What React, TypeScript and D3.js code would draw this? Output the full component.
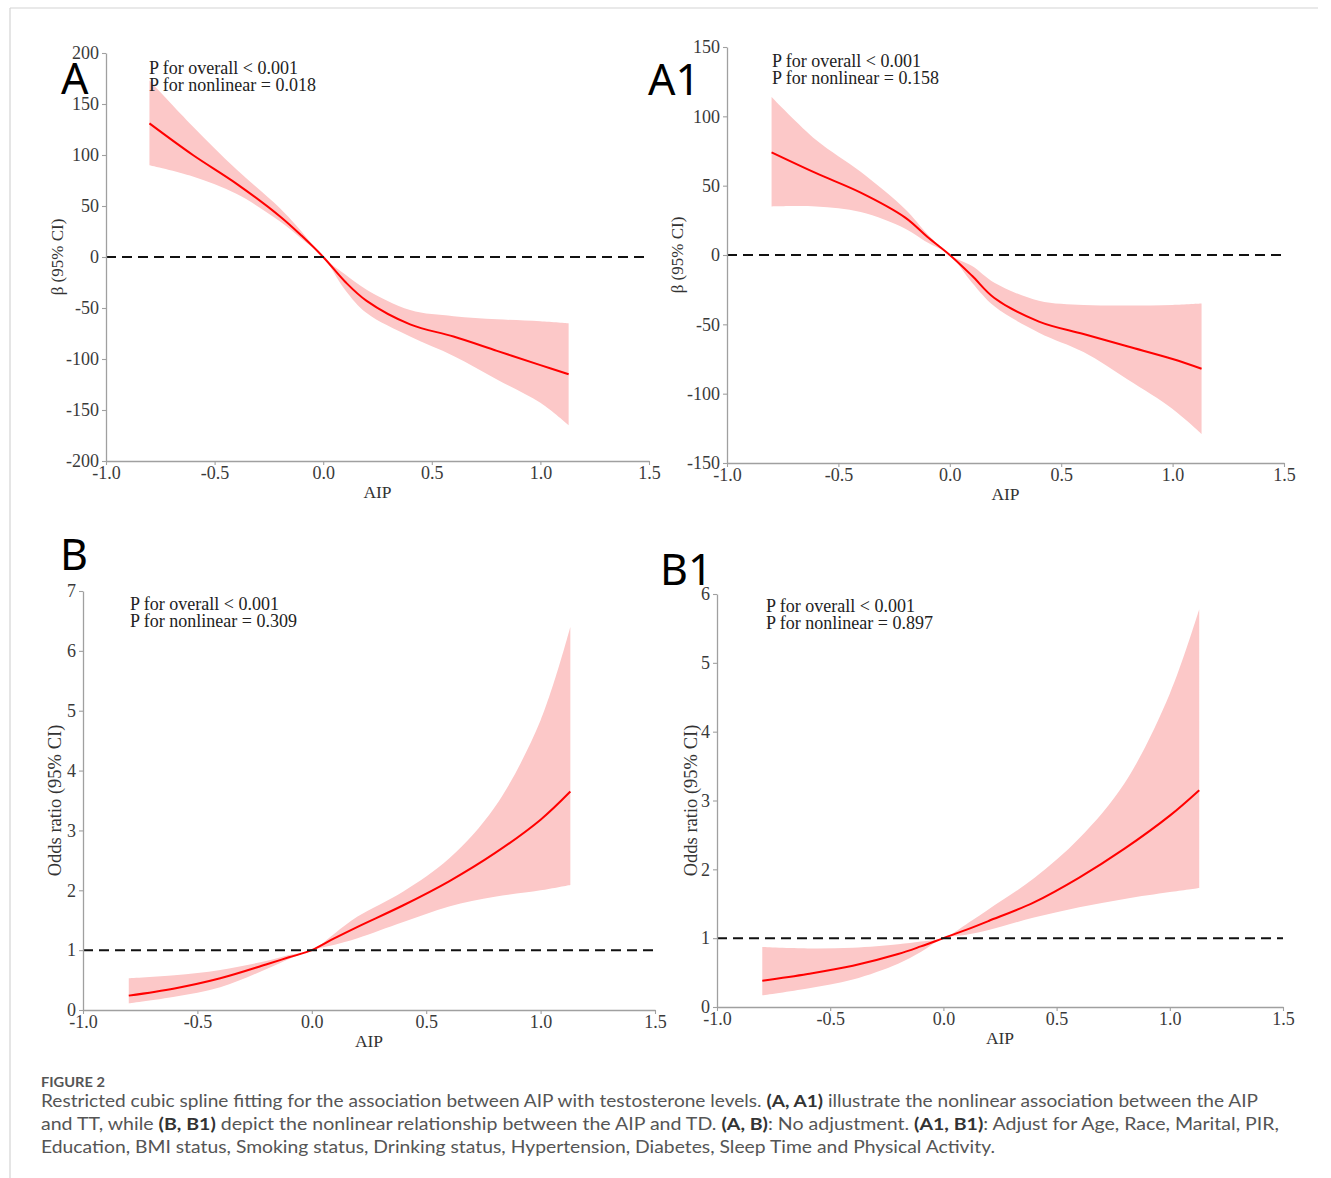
import React, { useEffect, useRef } from 'react';
import * as d3 from 'd3';

const aip = [-0.8, -0.6, -0.4, -0.2, -0.1, 0, 0.1, 0.2, 0.4, 0.6, 0.8, 1.0, 1.13];

// A: TT, no adjustment (beta)
const fitA = [131, 100, 72, 40, 21, 0, -24, -43, -66, -78, -92, -106, -115];
const hiA = [173, 128, 86, 48, 25, 0, -17, -32, -52, -58, -61, -63, -65];
const loA = [90, 79, 62, 35, 18, 0, -32, -55, -78, -97, -120, -143, -165];

// A1: TT, adjusted (beta)
const fitA1 = [74, 59, 45, 27, 13, 0, -15, -31, -48, -57, -66, -75, -82];
const hiA1 = [114, 83, 60, 33, 15, 0, -8, -20, -33, -36, -36.5, -36, -35];
const loA1 = [35, 35, 31, 19, 9, 0, -20, -37, -56, -70, -90, -111, -129];

// B: TD, no adjustment (odds ratio)
const fitB = [0.24, 0.36, 0.53, 0.76, 0.88, 1.0, 1.2, 1.39, 1.75, 2.15, 2.62, 3.18, 3.65];
const hiB = [0.53, 0.58, 0.67, 0.82, 0.92, 1.0, 1.28, 1.56, 1.98, 2.53, 3.39, 4.84, 6.4];
const loB = [0.11, 0.22, 0.38, 0.68, 0.85, 1.0, 1.09, 1.2, 1.47, 1.73, 1.89, 2.0, 2.09];

// B1: TD, adjusted (odds ratio)
const fitB1 = [0.38, 0.48, 0.6, 0.77, 0.88, 1.0, 1.12, 1.25, 1.52, 1.88, 2.3, 2.78, 3.15];
const hiB1 = [0.87, 0.85, 0.86, 0.91, 0.95, 1.0, 1.2, 1.42, 1.87, 2.45, 3.25, 4.55, 5.78];
const loB1 = [0.17, 0.27, 0.4, 0.63, 0.8, 1.0, 1.05, 1.12, 1.3, 1.45, 1.57, 1.67, 1.73];

const xTicks = [-1, -0.5, 0, 0.5, 1, 1.5];
const yTicksA = [-200, -150, -100, -50, 0, 50, 100, 150, 200];
const yTicksA1 = [-150, -100, -50, 0, 50, 100, 150];
const yTicksB = [0, 1, 2, 3, 4, 5, 6, 7];
const yTicksB1 = [0, 1, 2, 3, 4, 5, 6];

const serif = '"Liberation Serif", "Times New Roman", serif';
const sans = '"Noto Sans", "DejaVu Sans", sans-serif';
const capFont = 'Lato, "Noto Sans", sans-serif';

type PanelProps = {
  letter: string;
  letterX: number;
  letterY: number;
  fit: number[];
  hi: number[];
  lo: number[];
  xPx: [number, number];
  yPx: [number, number];
  yDomain: [number, number];
  yTicks: number[];
  refValue: number;
  yLabel: string;
  yLabelX: number;
  yLabelSize: number;
  pLines: string[];
  pX: number;
  pY: number;
};

const Panel = (p: PanelProps) => {
  const xAxisRef = useRef<SVGGElement>(null);
  const yAxisRef = useRef<SVGGElement>(null);

  const x = d3.scaleLinear().domain([-1, 1.5]).range(p.xPx);
  const y = d3.scaleLinear().domain(p.yDomain).range(p.yPx);

  useEffect(() => {
    const xa = d3.select(xAxisRef.current!)
      .call(d3.axisBottom(x).tickValues(xTicks).tickFormat((d) => (+d).toFixed(1)).tickSize(4).tickSizeOuter(0).tickPadding(1) as any);
    const ya = d3.select(yAxisRef.current!)
      .call(d3.axisLeft(y).tickValues(p.yTicks).tickFormat((d) => String(d)).tickSize(4).tickSizeOuter(0).tickPadding(3) as any);
    [xa, ya].forEach((g) => {
      g.attr('font-family', serif).attr('font-size', 18);
      g.select('.domain').attr('stroke', '#a0a0a0').attr('stroke-width', 1.3);
      g.selectAll('.tick line').attr('stroke', '#a0a0a0').attr('stroke-width', 1.1);
      g.selectAll('.tick text').attr('fill', '#3a3a3a');
    });
  }, []);

  const rows = aip.map((a, i) => ({ a, fit: p.fit[i], hi: p.hi[i], lo: p.lo[i] }));
  const band = d3.area<typeof rows[0]>()
    .x((d) => x(d.a))
    .y0((d) => y(d.lo))
    .y1((d) => y(d.hi))
    .curve(d3.curveCatmullRom.alpha(0.5));
  const line = d3.line<typeof rows[0]>()
    .x((d) => x(d.a))
    .y((d) => y(d.fit))
    .curve(d3.curveCatmullRom.alpha(0.5));

  const midX = (p.xPx[0] + p.xPx[1]) / 2;
  const midY = (p.yPx[0] + p.yPx[1]) / 2;

  return (
    <g>
      <path d={band(rows) || ''} fill="#fcc8c8" />
      <path d={line(rows) || ''} fill="none" stroke="#ff0000" strokeWidth={2} />
      <line x1={x(-1)} x2={x(1.5)} y1={y(p.refValue)} y2={y(p.refValue)} stroke="#111" strokeWidth={2} strokeDasharray="10,6" />
      <g ref={xAxisRef} transform={`translate(0,${p.yPx[0]})`} />
      <g ref={yAxisRef} transform={`translate(${p.xPx[0]},0)`} />
      <text x={midX} y={p.yPx[0] + 37} textAnchor="middle" fontFamily={serif} fontSize={17.5} fill="#333">AIP</text>
      <text transform={`translate(${p.yLabelX},${midY}) rotate(-90)`} textAnchor="middle" fontFamily={serif} fontSize={p.yLabelSize} fill="#333">{p.yLabel}</text>
      {p.pLines.map((t, i) => (
        <text key={i} x={p.pX} y={p.pY + i * 16.5} fontFamily={serif} fontSize={18} fill="#222">{t}</text>
      ))}
      <text x={p.letterX} y={p.letterY} fontFamily={sans} fontSize={43} fill="#000">{p.letter}</text>
    </g>
  );
};

const App = () => {
  return (
    <div style={{ position: 'absolute', left: 0, top: 0 }}>
      <svg width={1331} height={1178} style={{ display: 'block', background: '#fff' }}>
        <line x1={10} x2={1318} y1={8} y2={8} stroke="#d4d4d4" strokeWidth={1.2} />
        <line x1={10} x2={10} y1={8} y2={1178} stroke="#d4d4d4" strokeWidth={1.2} />

        <Panel letter="A" letterX={61} letterY={94} fit={fitA} hi={hiA} lo={loA}
          xPx={[106, 649]} yPx={[461, 53]} yDomain={[-200, 200]} yTicks={yTicksA} refValue={0}
          yLabel="β (95% CI)" yLabelX={63} yLabelSize={17}
          pLines={['P for overall < 0.001', 'P for nonlinear = 0.018']} pX={149} pY={74} />
        <Panel letter="A1" letterX={648} letterY={95} fit={fitA1} hi={hiA1} lo={loA1}
          xPx={[727, 1284]} yPx={[463, 47]} yDomain={[-150, 150]} yTicks={yTicksA1} refValue={0}
          yLabel="β (95% CI)" yLabelX={683} yLabelSize={17}
          pLines={['P for overall < 0.001', 'P for nonlinear = 0.158']} pX={772} pY={67} />
        <Panel letter="B" letterX={60} letterY={570} fit={fitB} hi={hiB} lo={loB}
          xPx={[83, 655]} yPx={[1010, 591]} yDomain={[0, 7]} yTicks={yTicksB} refValue={1}
          yLabel="Odds ratio (95% CI)" yLabelX={61} yLabelSize={18.5}
          pLines={['P for overall < 0.001', 'P for nonlinear = 0.309']} pX={130} pY={610} />
        <Panel letter="B1" letterX={660} letterY={585} fit={fitB1} hi={hiB1} lo={loB1}
          xPx={[717, 1283]} yPx={[1007, 594]} yDomain={[0, 6]} yTicks={yTicksB1} refValue={1}
          yLabel="Odds ratio (95% CI)" yLabelX={697} yLabelSize={18.5}
          pLines={['P for overall < 0.001', 'P for nonlinear = 0.897']} pX={766} pY={612} />

        <text x={41} y={1087} fontFamily={capFont} fontSize={13} fontWeight={700} fill="#555" textLength={64} lengthAdjust="spacingAndGlyphs">FIGURE 2</text>
        <text x={41} y={1107} fontFamily={capFont} fontSize={17} fill="#555" textLength={1217} lengthAdjust="spacingAndGlyphs">
          Restricted cubic spline fitting for the association between AIP with testosterone levels. <tspan fontWeight={700} fill="#333">(A, A1)</tspan> illustrate the nonlinear association between the AIP
        </text>
        <text x={41} y={1130} fontFamily={capFont} fontSize={17} fill="#555" textLength={1238} lengthAdjust="spacingAndGlyphs">
          and TT, while <tspan fontWeight={700} fill="#333">(B, B1)</tspan> depict the nonlinear relationship between the AIP and TD. <tspan fontWeight={700} fill="#333">(A, B)</tspan>: No adjustment. <tspan fontWeight={700} fill="#333">(A1, B1)</tspan>: Adjust for Age, Race, Marital, PIR,
        </text>
        <text x={41} y={1153} fontFamily={capFont} fontSize={17} fill="#555" textLength={954} lengthAdjust="spacingAndGlyphs">
          Education, BMI status, Smoking status, Drinking status, Hypertension, Diabetes, Sleep Time and Physical Activity.
        </text>
      </svg>
    </div>
  );
};

export default App;
